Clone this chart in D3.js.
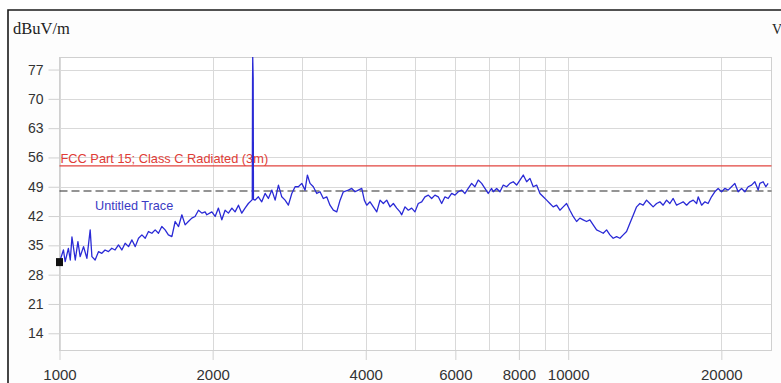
<!DOCTYPE html>
<html>
<head>
<meta charset="utf-8">
<script src="https://cdn.jsdelivr.net/npm/d3@7"></script>
<style>
  html, body { margin: 0; padding: 0; background: #ffffff; }
  svg { display: block; }
</style>
</head>
<body>
<svg id="chart" width="781" height="383"></svg>
<script>
// ---- data ----
const yTickValues = [14, 21, 28, 35, 42, 49, 56, 63, 70, 77];
const xGridValues = [1000, 2000, 3000, 4000, 5000, 6000, 7000, 8000, 9000, 10000, 20000];
const xLabelValues = [1000, 2000, 4000, 6000, 8000, 10000, 20000];
const yUnitLabel = "dBuV/m";
const rightUnitLabel = "V";
const limitName = "FCC Part 15; Class C Radiated (3m)";
const limitValue = 54;
const referenceValue = 48;
const traceName = "Untitled Trace";
const markerPoint = [1000, 31.0];

const traceFreq = [
  1000, 1003, 1018, 1026, 1041, 1050, 1058, 1074, 1087, 1098, 1115, 1132, 1149, 1158, 1175, 1193,
  1211, 1229, 1248, 1267, 1286, 1306, 1326, 1346, 1367, 1388, 1409, 1430, 1452, 1474, 1496, 1519,
  1542, 1565, 1589, 1613, 1637, 1663, 1688, 1714, 1740, 1766, 1792, 1820, 1847, 1876, 1905, 1933,
  1948, 1993, 2023, 2053, 2085, 2116, 2148, 2182, 2214, 2248, 2282, 2316, 2351, 2388,
  2393, 2396, 2398, 2403, 2406,
  2424, 2460, 2498, 2536, 2574, 2615, 2654, 2694, 2735, 2776, 2818, 2862, 2905, 2948, 2994, 3039,
  3071, 3108, 3155, 3204, 3252, 3301, 3352, 3402, 3454, 3508, 3561, 3614, 3697,
  3754, 3810, 3868, 3928, 3974, 4018, 4078, 4140, 4204, 4267, 4331, 4398, 4465, 4532, 4602, 4671,
  4707, 4778, 4850, 4924, 4998, 5073, 5152, 5229, 5309, 5390, 5471, 5554, 5640, 5725, 5810, 5901,
  5990, 6080, 6174, 6267, 6360, 6459, 6556, 6655, 6759, 6860, 6963, 7071,
  7124, 7234, 7343, 7454, 7568, 7683, 7798, 7919, 8039, 8160, 8286, 8411, 8536, 8669, 8800, 8932,
  9070, 9205, 9344, 9489, 9632, 9777, 9927, 10077, 10228, 10387, 10544, 10703, 10867, 11031, 11198,
  11372, 11544, 11718, 11898, 12078, 12260, 12450, 12638, 12829, 13025, 13222,
  13421, 13630, 13833, 14039, 14257, 14472, 14690, 14919, 15144, 15370, 15609, 15845, 16084, 16334,
  16580, 16830, 17092, 17350, 17611, 17882, 18014, 18294, 18570, 18836, 19130, 19419, 19714, 20020,
  20318, 20625, 20946, 21262, 21583, 21919, 22250, 22581, 22932, 23278, 23629, 23809, 24168, 24465, 24720
];
const traceLevel = [
  31.0, 31.5, 33.9, 31.1, 34.3, 31.5, 37.0, 31.5, 35.9, 32.3, 34.7, 31.9, 38.7, 32.3, 31.5, 33.5,
  33.1, 33.9, 33.5, 34.3, 33.9, 35.1, 33.9, 35.5, 34.7, 36.3, 34.7, 36.7, 37.5, 36.7, 38.3, 37.9,
  38.7, 37.9, 39.5, 38.7, 37.5, 37.1, 40.7, 39.5, 42.3, 39.9, 40.7, 41.5, 41.9, 43.4, 42.7, 43.0,
  42.3, 43.0, 41.9, 43.9, 41.1, 43.4, 42.7, 43.9, 43.0, 44.6, 42.7, 43.9, 45.0, 45.8,
  46.0, 74.0, 80.0, 75.0, 46.0,
  45.8, 46.6, 45.4, 47.4, 46.2, 48.2, 45.8, 49.4, 46.6, 45.8, 44.6, 47.4, 49.0, 49.0, 49.8, 48.2,
  51.8, 49.8, 49.0, 47.4, 47.8, 46.2, 46.6, 44.6, 43.4, 43.0, 45.8, 47.8, 48.2,
  48.6, 47.8, 48.2, 48.6, 45.8, 44.6, 45.4, 44.2, 43.0, 45.8, 45.0, 45.8, 44.2, 45.0, 43.9, 43.0,
  42.3, 44.2, 43.4, 43.9, 43.0, 45.0, 45.4, 46.6, 47.0, 46.2, 47.0, 46.6, 45.0, 46.6, 46.2, 47.4,
  47.0, 47.8, 48.2, 47.4, 48.6, 49.8, 49.0, 50.6, 49.8, 48.6, 47.4, 48.6,
  47.8, 48.6, 47.8, 49.4, 49.0, 49.8, 50.2, 49.4, 50.6, 51.8, 50.2, 51.0, 49.0, 49.4, 47.4, 46.6,
  45.8, 45.0, 44.2, 44.6, 43.4, 44.2, 45.0, 43.4, 41.9, 40.7, 41.5, 41.1, 40.7, 41.1, 39.9,
  38.7, 38.3, 37.9, 38.7, 37.5, 36.7, 37.1, 36.7, 37.5, 38.3, 40.3,
  42.2, 44.2, 45.0, 44.6, 45.8, 45.0, 44.2, 45.0, 45.4, 44.6, 45.8, 45.0, 46.2, 44.6,
  45.0, 45.4, 44.6, 45.4, 45.8, 45.0, 46.6, 44.6, 45.4, 45.0, 46.6, 47.8, 48.6, 47.8,
  48.6, 48.2, 49.0, 49.8, 47.8, 48.6, 47.8, 49.0, 49.4, 50.2, 48.2, 49.8, 50.2, 49.0, 49.8
];

// ---- layout ----
const W = 781, H = 383;
const plot = { left: 59.5, right: 771.5, top: 57, bottom: 350 };

const svg = d3.select("#chart");

const x = d3.scaleLog().domain([1000, 25100]).range([plot.left, plot.right]);
const y = d3.scaleLinear().domain([10, 80]).range([plot.bottom, plot.top]);

// background panel
svg.append("rect").attr("x", 8).attr("y", 10).attr("width", W - 8).attr("height", H - 10)
  .attr("fill", "#fdfdfd");

// frame (top and left border)
svg.append("path")
  .attr("d", `M8,${H} L8,10 L${W},10`)
  .attr("fill", "none").attr("stroke", "#1a1a1a").attr("stroke-width", 1.6);

// unit labels
svg.append("text").attr("x", 13).attr("y", 34)
  .attr("font-family", "'Liberation Serif', 'Times New Roman', serif")
  .attr("font-size", 16.5).attr("fill", "#222").text(yUnitLabel);
svg.append("text").attr("x", 772).attr("y", 34)
  .attr("font-family", "'Liberation Serif', 'Times New Roman', serif")
  .attr("font-size", 14).attr("fill", "#222").text(rightUnitLabel);

// plot area
svg.append("rect").attr("x", plot.left).attr("y", plot.top)
  .attr("width", plot.right - plot.left).attr("height", plot.bottom - plot.top)
  .attr("fill", "#ffffff");

const grid = svg.append("g").attr("stroke", "#d9d9d9").attr("stroke-width", 1).attr("shape-rendering", "crispEdges");
grid.selectAll("line.h").data(yTickValues).join("line").attr("class", "h")
  .attr("x1", plot.left).attr("x2", plot.right)
  .attr("y1", d => Math.round(y(d)) + 0.5).attr("y2", d => Math.round(y(d)) + 0.5);
grid.selectAll("line.v").data(xGridValues).join("line").attr("class", "v")
  .attr("y1", plot.top).attr("y2", plot.bottom)
  .attr("x1", d => Math.round(x(d)) + 0.5).attr("x2", d => Math.round(x(d)) + 0.5);

svg.append("rect").attr("x", plot.left).attr("y", plot.top + 0.5)
  .attr("width", plot.right - plot.left).attr("height", plot.bottom - plot.top)
  .attr("fill", "none").attr("stroke", "#d0d0d0").attr("stroke-width", 1)
  .attr("shape-rendering", "crispEdges");

// axes
const yAxis = svg.append("g").attr("transform", `translate(${plot.left},0)`)
  .call(d3.axisLeft(y).tickValues(yTickValues).tickSize(11).tickPadding(5).tickFormat(d3.format("d")));
yAxis.select(".domain").remove();
yAxis.selectAll(".tick line").attr("stroke", "#d0d0d0");
yAxis.selectAll(".tick text").attr("font-family", "'Liberation Sans', Arial, sans-serif")
  .attr("font-size", 14).attr("fill", "#333");

const xAxis = svg.append("g").attr("transform", `translate(0,${plot.bottom})`)
  .call(d3.axisBottom(x).tickValues(xLabelValues).tickSize(10).tickPadding(9).tickFormat(d3.format("d")));
xAxis.select(".domain").remove();
xAxis.selectAll(".tick line").attr("stroke", "#d0d0d0");
xAxis.selectAll(".tick text").attr("font-family", "'Liberation Sans', Arial, sans-serif")
  .attr("font-size", 15).attr("fill", "#333");

// clip
svg.append("clipPath").attr("id", "clip").append("rect")
  .attr("x", plot.left).attr("y", plot.top).attr("width", plot.right - plot.left).attr("height", plot.bottom - plot.top);

// limit line
svg.append("line").attr("x1", plot.left).attr("x2", plot.right)
  .attr("y1", y(limitValue)).attr("y2", y(limitValue))
  .attr("stroke", "#e2453f").attr("stroke-width", 1.1);
svg.append("text").attr("x", plot.left + 1).attr("y", y(limitValue) - 2.5)
  .attr("font-family", "'Liberation Sans', Arial, sans-serif").attr("font-size", 12.8)
  .attr("fill", "#e03c36").text(limitName);

// reference dashed line
svg.append("line").attr("x1", plot.left).attr("x2", plot.right)
  .attr("y1", y(referenceValue)).attr("y2", y(referenceValue))
  .attr("stroke", "#2a2a2a").attr("stroke-width", 1.1).attr("stroke-dasharray", "8,4");

// trace name
svg.append("text").attr("x", 95).attr("y", 210)
  .attr("font-family", "'Liberation Sans', Arial, sans-serif").attr("font-size", 12.7)
  .attr("fill", "#3b3bc4").text(traceName);

// trace
const traceData = traceFreq.map((f, i) => [f, traceLevel[i]]);
const line = d3.line().x(d => x(d[0])).y(d => y(d[1]));
svg.append("path").datum(traceData).attr("clip-path", "url(#clip)")
  .attr("d", line).attr("fill", "none").attr("stroke", "#2a2ad6").attr("stroke-width", 1.3)
  .attr("stroke-linejoin", "round");

// marker
svg.append("rect").attr("x", x(markerPoint[0]) - 3.5).attr("y", y(markerPoint[1]) - 4)
  .attr("width", 7).attr("height", 8).attr("fill", "#111");
</script>
</body>
</html>
